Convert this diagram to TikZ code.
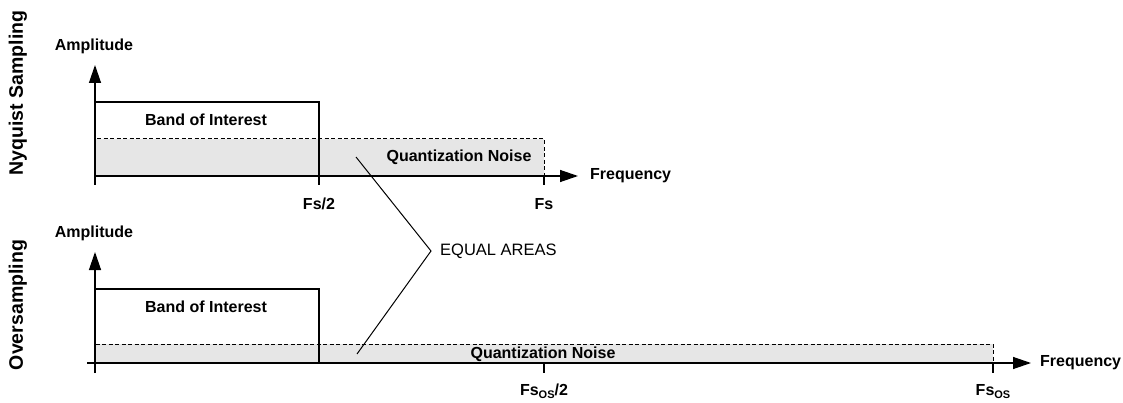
\documentclass[tikz,border=0pt]{standalone}
\usepackage{fontspec}
\setmainfont{Liberation Sans}
\usetikzlibrary{arrows.meta, positioning}
\definecolor{noisefill}{RGB}{230,230,230}
\newcommand{\fsub}[1]{\raisebox{-0.35ex}{\fontsize{11}{12}\selectfont #1}}

\begin{document}
\begin{tikzpicture}[
      x=1pt, y=1pt,
      axisline/.style={line width=1.3pt, -{Triangle[length=18pt, width=12pt]}},
      bandbox/.style={draw, line width=1.2pt},
      noisebox/.style={draw, fill=noisefill, line width=1pt, dash pattern=on 4pt off 2.5pt},
      tickmark/.style={line width=1.2pt},
      lbl/.style={font=\fontsize{16}{18}\selectfont\bfseries, inner sep=1pt},
      sidelabel/.style={font=\fontsize{19.5}{22}\selectfont\bfseries, rotate=90, inner sep=0pt},
      notelabel/.style={font=\fontsize{16.5}{18}\selectfont, inner sep=1pt},
      pointer/.style={line width=1pt}
    ]
    \useasboundingbox (0,0) rectangle (1123,402);

    % Nyquist sampling
    \coordinate (o1) at (95,226);
    \coordinate (half1) at (319,226);
    \coordinate (fs1) at (544,226);
    \coordinate (ytip1) at (95,337);
    \coordinate (xtip1) at (578,226);
    \fill[noisefill] (o1) rectangle (544,263);
    \draw[noisebox] (o1) rectangle (544,263);
    \draw[bandbox] (o1) rectangle (319,300);
    \draw[axisline] (95,217) -- (ytip1);
    \draw[axisline] (o1) -- (xtip1);
    \draw[tickmark] (half1) -- ++(0,-9) coordinate (half1t);
    \draw[tickmark] (fs1) -- ++(0,-9) coordinate (fs1t);
    \node[sidelabel] (nyq) at (18,309) {Nyquist Sampling};
    \node[lbl] (amp1) at (94,356) {Amplitude};
    \node[lbl] (boi1) at (206,282) {Band of Interest};
    \node[lbl] (qn1) at (459,245) {Quantization Noise};
    \node[lbl, right=11pt of xtip1] (freq1) {Frequency};
    \node[lbl, below=12pt of half1t] (lhalf1) {Fs/2};
    \node[lbl, below=12pt of fs1t] (lfs1) {Fs};

    % Oversampling
    \coordinate (o2) at (95,39);
    \coordinate (half2) at (544,39);
    \coordinate (fs2) at (993,39);
    \coordinate (ytip2) at (95,150);
    \coordinate (xtip2) at (1031,39);
    \fill[noisefill] (o2) rectangle (993,58);
    \draw[noisebox] (o2) rectangle (993,58);
    \draw[bandbox] (o2) rectangle (319,113);
    \draw[axisline] (95,29) -- (ytip2);
    \draw[axisline] (87,39) -- (xtip2);
    \draw[tickmark] (half2) -- ++(0,-10) coordinate (half2t);
    \draw[tickmark] (fs2) -- ++(0,-10) coordinate (fs2t);
    \node[sidelabel] (ovs) at (18,97) {Oversampling};
    \node[lbl] (amp2) at (94,169) {Amplitude};
    \node[lbl] (boi2) at (206,95) {Band of Interest};
    \node[lbl] (qn2) at (543,48) {Quantization Noise};
    \node[lbl, right=8pt of xtip2] (freq2) {Frequency};
    \node[lbl, below=10pt of half2t] (lhalf2) {Fs\fsub{OS}/2};
    \node[lbl, below=10pt of fs2t] (lfs2) {Fs\fsub{OS}};

    % equal areas
    \coordinate (area1) at (356,245);
    \coordinate (area2) at (357,48);
    \coordinate (bend) at (431,151);
    \node[notelabel, anchor=west] (eq) at (439,151) {EQUAL AREAS};
    \draw[pointer] (area1) -- (bend) -- (area2);
  \end{tikzpicture}
\end{document}
